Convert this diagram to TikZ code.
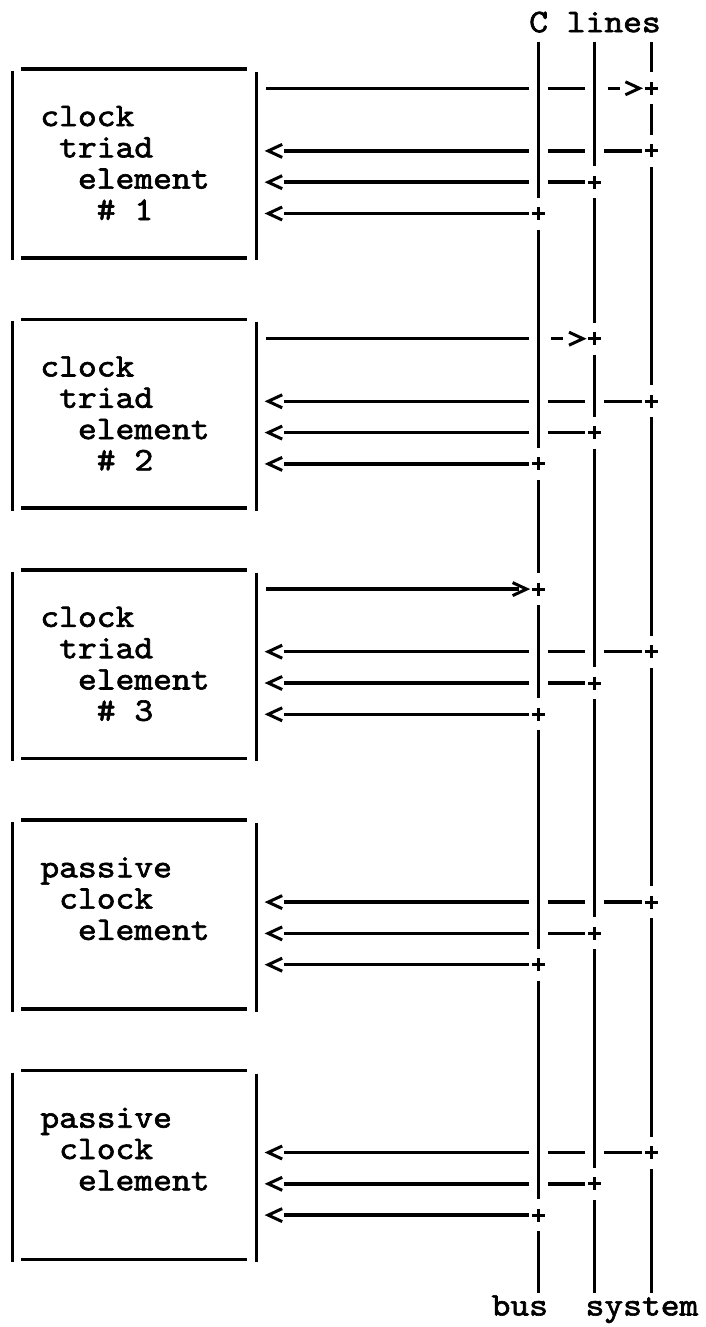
\documentclass[tikz,border=0pt]{standalone}
\usepackage{graphicx}
\usepackage{fontspec}
\newfontfamily\typew[FakeBold=1.8]{lmmono10-regular.otf}
\usetikzlibrary{calc}
\newcommand\rowY[1]{(25.7+31.3*(#1))}
\newcommand\colL[1]{(2.6+18.8*(#1))}
\newcommand\colC[1]{(12+18.8*(#1))}
\newcommand\colR[1]{(21.4+18.8*(#1))}
\newcommand\ind[1]{\hspace*{#1\dimexpr 18.8pt\relax}}
\newcommand\wide[1]{\scalebox{1.085}[1]{#1}}
\begin{document}
\begin{tikzpicture}[x=1pt,y=-1pt,
  wire/.style={line width=3.5pt},
  vbar/.style={line width=3pt},
  pen/.style={line width=3pt},
  txt/.style={font=\typew\fontsize{33}{31.3}\selectfont, inner sep=0pt, anchor=base west},
  lbl/.style={txt, align=left},
  plussign/.pic={\draw[pen] (-6.5,0)--(6.5,0) (0,-6.5)--(0,6.5);},
  ltmark/.pic={\draw[pen] (7,-6.5)--(-7,0)--(7,6.5);},
  gtmark/.pic={\draw[pen] (-7,-6.5)--(7,0)--(-7,6.5);},
  dashmark/.pic={\draw[pen] (-6,0)--(6,0);}
]
\fill[white] (0,0) rectangle (705,1327);
\useasboundingbox (0,0) rectangle (705,1327);

% column reference coordinates
\coordinate (busX) at ({\colC{28}},0);
\coordinate (midX) at ({\colC{31}},0);
\coordinate (sysX) at ({\colC{34}},0);
\coordinate (busL) at ({\colR{27}},0);
\coordinate (busR) at ({\colL{29}},0);
\coordinate (midL) at ({\colR{30}},0);
\coordinate (midR) at ({\colL{32}},0);
\coordinate (sysL) at ({\colR{33}},0);

% headings
\node[txt] (hdr) at ({\colL{28}},{\rowY{0}+6.5}) {\wide{C lines}};
\node[txt] (ftr) at ({\colL{26}},{\rowY{41}+6.5}) {\wide{bus\ \ system}};

% vertical bus lines
\foreach \p/\q in {0/6,6/14,14/18,18/22,22/30,30/38,38/41}
  \draw[vbar] (busX |- 0,{\rowY{\p}+16}) -- (busX |- 0,{\rowY{\q}-16});
\foreach \p/\q in {0/5,5/10,10/13,13/21,21/29,29/37,37/41}
  \draw[vbar] (midX |- 0,{\rowY{\p}+16}) -- (midX |- 0,{\rowY{\q}-16});
\foreach \p/\q in {0/2,2/4,4/12,12/20,20/28,28/36,36/41}
  \draw[vbar] (sysX |- 0,{\rowY{\p}+16}) -- (sysX |- 0,{\rowY{\q}-16});

% element boxes
\foreach \b in {1,9,17,25,33}{
  \coordinate (tl\b) at ({\colL{1}},{\rowY{\b}+12});
  \coordinate (tr\b) at ({\colR{12}},{\rowY{\b}+12});
  \coordinate (bl\b) at ({\colL{1}},{\rowY{\b+6}+13});
  \coordinate (br\b) at ({\colR{12}},{\rowY{\b+6}+13});
  \coordinate (lt\b) at ({\colC{0}},{\rowY{\b}+14});
  \coordinate (lb\b) at ({\colC{0}},{\rowY{\b+6}+15.5});
  \coordinate (rt\b) at ({\colC{13}},{\rowY{\b}+15});
  \coordinate (rb\b) at ({\colC{13}},{\rowY{\b+6}+15.5});
  \draw[wire] (tl\b) -- (tr\b);
  \draw[wire] (bl\b) -- (br\b);
  \draw[vbar] (lt\b) -- (lb\b);
  \draw[vbar] (rt\b) -- (rb\b);
}

% labels of the triad elements (anchored at the baseline of the last line)
\foreach \b/\k in {1/1,9/2,17/3}{
  \node[lbl] (tri\k) at ({\colL{2}},{\rowY{\b+5}+6.5})
    {\wide{clock}\\\ind{1}\wide{triad}\\\ind{2}\wide{element}\\\ind{3}\wide{\#\ \k}};
}
% labels of the passive elements
\foreach \b/\k in {25/1,33/2}{
  \node[lbl] (pas\k) at ({\colL{2}},{\rowY{\b+4}+6.5})
    {\wide{passive}\\\ind{1}\wide{clock}\\\ind{2}\wide{element}};
}

% incoming lines
\foreach \b in {1,9,17,25,33}{
  \coordinate (s\b) at ({\colC{14}},{\rowY{\b+3}});
  \coordinate (m\b) at ({\colC{14}},{\rowY{\b+4}});
  \coordinate (u\b) at ({\colC{14}},{\rowY{\b+5}});
  \pic at (s\b) {ltmark};
  \pic at (m\b) {ltmark};
  \pic at (u\b) {ltmark};
  \draw[wire] ([xshift=9pt]s\b) -- (s\b -| busL) (s\b -| busR) -- (s\b -| midL) (s\b -| midR) -- (s\b -| sysL);
  \pic at (s\b -| sysX) {plussign};
  \draw[wire] ([xshift=9pt]m\b) -- (m\b -| busL) (m\b -| busR) -- (m\b -| midL);
  \pic at (m\b -| midX) {plussign};
  \draw[wire] ([xshift=9pt]u\b) -- (u\b -| busL);
  \pic at (u\b -| busX) {plussign};
}

% outgoing lines
\coordinate (o1) at ({\colL{14}},{\rowY{2}});
\draw[wire] (o1) -- (o1 -| busL) (o1 -| busR) -- (o1 -| midL);
\pic at ({\colC{32}},{\rowY{2}}) {dashmark};
\pic at ({\colC{33}},{\rowY{2}}) {gtmark};
\pic at (o1 -| sysX) {plussign};

\coordinate (o2) at ({\colL{14}},{\rowY{10}});
\draw[wire] (o2) -- (o2 -| busL);
\pic at ({\colC{29}},{\rowY{10}}) {dashmark};
\pic at ({\colC{30}},{\rowY{10}}) {gtmark};
\pic at (o2 -| midX) {plussign};

\coordinate (o3) at ({\colL{14}},{\rowY{18}});
\coordinate (g3) at ({\colC{27}},{\rowY{18}});
\draw[wire] (o3) -- ([xshift=-1pt]g3);
\pic at (g3) {gtmark};
\pic at (o3 -| busX) {plussign};
\end{tikzpicture}
\end{document}
